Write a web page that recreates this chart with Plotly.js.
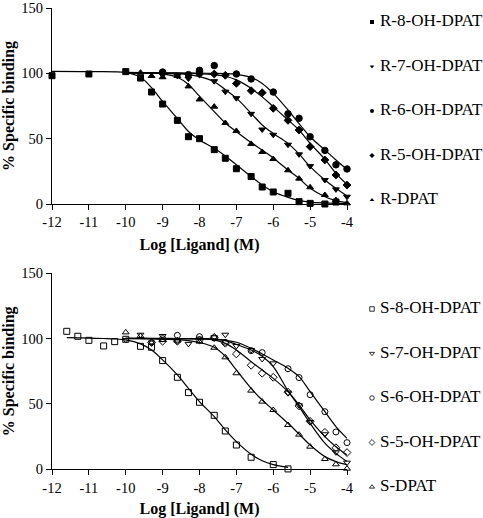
<!DOCTYPE html>
<html><head><meta charset="utf-8">
<script src="https://cdn.plot.ly/plotly-3.0.1.min.js"></script>
<style>html,body{margin:0;padding:0;background:#fff}#chart{width:483px;height:518px}</style>
</head><body><div id="chart"></div>
<script>
// ---- data ----
const X_TICK_VALS = [-12, -11, -10, -9, -8, -7, -6, -5, -4];
const X_TICK_TEXT = ['-12', '-11', '-10', '-9', '-8', '-7', '-6', '-5', '-4'];
const Y_TICK_VALS = [0, 50, 100, 150];

// Top panel (R enantiomers)
const R_NAMES = ['R-8-OH-DPAT', 'R-7-OH-DPAT', 'R-6-OH-DPAT', 'R-5-OH-DPAT', 'R-DPAT'];
const X_TOP = [-12, -11, -10, -9.6, -9.3, -9, -8.6, -8.3, -8, -7.6, -7.3, -7, -6.6, -6.3, -6, -5.6, -5.3, -5, -4.6, -4.3, -4];
const R8_PTS = [98.2, 99.5, 101.3, 96.4, 85.7, 76.5, 64, 51.5, 50, 41.6, 35, 27, 21, 13, 9.2, 8.2, 1.8, 0.5, 0, 1.5, null];
const R7_PTS = [null, null, null, null, null, 98.5, 98, 96, 100.5, 94, 86, 81, 69, 57, 53, 45.4, 38, 29, 18.4, 11.2, 5.6];
const R6_PTS = [null, null, null, null, null, 101, null, 99, 102.3, 105.9, null, 99.5, 95.7, null, 85.7, 69, 65.6, 51.5, 41, 30, 26.8];
const R5_PTS = [null, null, null, null, null, null, null, null, 99.5, 99.5, 98.5, 92.3, 86.7, 85.2, 73.2, 64, 56.6, 43.9, 33.7, 22.2, 14.5];
const RD_PTS = [null, null, null, 100.5, 98, 97, 98, 90, 80, 74.5, 62, 55.9, 46, 39.8, 34.4, 25.8, 19.4, 12.8, 6.9, 3, 0.5];
const R8_FIT = [101.5, 101.3, 100.5, 97, 89, 78.5, 65.5, 55.5, 49, 42.6, 36.7, 30, 21, 14.5, 9.4, 5.1, 2.8, 1.5, 0.8, 0.5, 0.3];
const R7_FIT = [null, null, 100.2, 100.2, 100.1, 100, 99.6, 99, 97.5, 93.5, 87.5, 81, 69.4, 60.5, 54, 46.4, 38.3, 28.6, 18.4, 12, 6.1];
const R6_FIT = [null, null, 100.5, 100.5, 100.5, 100.4, 100.3, 100.2, 100.1, 100, 99.8, 99.2, 96.8, 92.3, 84.7, 72, 61.5, 51.5, 41.3, 33.7, 26.5];
const R5_FIT = [null, null, 100.3, 100.3, 100.3, 100.2, 100.1, 100, 99.8, 99, 97.8, 95, 88.5, 82, 74.5, 64.3, 56.6, 46.4, 34.2, 23.5, 15];
const RD_FIT = [null, null, 100.8, 100.5, 100.2, 99.5, 97, 91.5, 82.5, 70.7, 62, 55.4, 47, 41.3, 35.2, 26, 19.6, 12, 5.6, 2.6, 1];

// Bottom panel (S enantiomers)
const S_NAMES = ['S-8-OH-DPAT', 'S-7-OH-DPAT', 'S-6-OH-DPAT', 'S-5-OH-DPAT', 'S-DPAT'];
const X_BOT = [-11.6, -11.3, -11, -10.6, -10.3, -10, -9.6, -9.3, -9, -8.6, -8.3, -8, -7.6, -7.3, -7, -6.6, -6.3, -6, -5.6, -5.3, -5, -4.6, -4.3, -4];
const S8_PTS = [105.6, 101.8, 98.7, 94.4, 97.7, 99.5, 94.1, 93.4, 83.2, 70.4, 58.7, 51.3, 41.3, 29.3, 18.6, 9.2, null, 3.6, 0.3, null, null, null, null, null];
const S7_PTS = [null, null, null, null, null, 99, 103, 97, 102, 98, 96, 100, 101, 103, 94.4, 91.3, 84.4, 81.1, 58.7, 49, 36.2, 26.8, 13, 5.1];
const S6_PTS = [null, null, null, null, null, null, null, null, 100, 102.5, null, 101.5, 100.5, 97.2, null, 90.8, 89.3, null, 77, 70.2, 57.1, 44.1, 28.6, 20.4];
const S5_PTS = [null, null, null, null, null, null, null, 97, 98, 98, null, 99, 101, 96.5, 88.3, 79.6, 73.5, 70.4, 59, 48.5, 36.7, 28.3, 16.5, 12.8];
const SD_PTS = [null, null, null, null, null, 104.8, 102, 97, 99, 98.5, null, 97.7, 93, 85.7, 73.5, 60.2, 51.8, 45.4, 33.9, 26.5, 17.3, 7.9, 3.8, 0.5];
const S8_FIT = [100.8, 100.6, 100.4, 100.1, 99.8, 99, 96, 91.3, 83.7, 72.2, 62, 51.8, 40.3, 30.1, 21.2, 11.5, 6.6, 3.6, 1.5, null, null, null, null, null];
const S7_FIT = [null, null, null, null, null, 100, 100, 100, 100, 100, 100, 100, 99.8, 98.5, 95.5, 91.3, 86.5, 78.5, 60, 48, 35.2, 20, 12.2, 5.9];
const S6_FIT = [null, null, null, null, null, 100.2, 100.2, 100.2, 100.2, 100.1, 100, 100, 99.5, 98.7, 97.2, 92.6, 88.3, 83.7, 77.3, 70.9, 59.4, 44.1, 32.7, 23.7];
const S5_FIT = [null, null, null, null, null, 100.2, 100.2, 100.1, 100, 100, 99.9, 99.8, 99, 96.4, 91.3, 82.4, 76, 69.6, 59.4, 49.2, 37.8, 25, 17.3, 11];
const SD_FIT = [null, null, null, null, null, 100.2, 100, 99.8, 99.5, 99.2, 98.5, 97, 93.4, 86.5, 76, 62, 53, 45.4, 35.2, 27, 18.6, 9.7, 5.9, 3.6];

// ---- styling ----
const SERIF = 'Liberation Serif, Times New Roman, serif';
const TICK_SIZE = 14.5, TITLE_SIZE = 16, LEGEND_SIZE = 17;
const TOP_SYMBOLS = ['square', 'triangle-down', 'circle', 'diamond', 'triangle-up'];
const BOT_SYMBOLS = ['square-open', 'triangle-down-open', 'circle-open', 'diamond-open', 'triangle-up-open'];
const TOP_SIZES = [6, 6, 6.5, 6, 6];
const BOT_SIZES = [6, 6, 6, 6, 6];

const topPts = [R8_PTS, R7_PTS, R6_PTS, R5_PTS, RD_PTS];
const topFit = [R8_FIT, R7_FIT, R6_FIT, R5_FIT, RD_FIT];
const botPts = [S8_PTS, S7_PTS, S6_PTS, S5_PTS, SD_PTS];
const botFit = [S8_FIT, S7_FIT, S6_FIT, S5_FIT, SD_FIT];

const traces = [];
function addPanel(xs, pts, fits, names, symbols, sizes, xa, ya) {
  fits.forEach((f, i) => traces.push({
    type: 'scatter', mode: 'lines', x: xs, y: f, xaxis: xa, yaxis: ya,
    line: {color: '#000', width: 1.2, shape: 'spline', smoothing: 1},
    showlegend: false, hoverinfo: 'skip'
  }));
  pts.forEach((p, i) => traces.push({
    type: 'scatter', mode: 'markers', x: xs, y: p, xaxis: xa, yaxis: ya, name: names[i],
    marker: {symbol: symbols[i], size: sizes[i], color: '#000', line: {color: '#000', width: 1}},
    cliponaxis: false, showlegend: false
  }));
}
addPanel(X_TOP, topPts, topFit, R_NAMES, TOP_SYMBOLS, TOP_SIZES, 'x', 'y');
addPanel(X_BOT, botPts, botFit, S_NAMES, BOT_SYMBOLS, BOT_SIZES, 'x2', 'y2');

// manual legends: symbol column and label column, positioned with hidden axes
const idx = R_NAMES.map((_, i) => i);
function addLegend(names, symbols, ya, msize, lw) {
  traces.push({
    type: 'scatter', mode: 'markers', x: idx.map(() => 0), y: idx, xaxis: 'x3', yaxis: ya,
    marker: {symbol: symbols, size: msize, color: '#000', line: {color: '#000', width: lw}},
    cliponaxis: false, showlegend: false, hoverinfo: 'skip'
  });
  traces.push({
    type: 'scatter', mode: 'text', x: idx.map(() => 8), y: idx, xaxis: 'x3', yaxis: ya,
    text: names, textposition: 'middle right', textfont: {family: SERIF, size: LEGEND_SIZE, color: '#000'},
    cliponaxis: false, showlegend: false, hoverinfo: 'skip'
  });
}
addLegend(R_NAMES, TOP_SYMBOLS, 'y3', 4, 0);
addLegend(S_NAMES, BOT_SYMBOLS, 'y4', 4.5, 0.8);

const W = 483, H = 518;
const xDom = [52 / W, 347 / W];
function xAxis(anchor) {
  return {
    domain: xDom, anchor: anchor, range: [-12, -4], tickvals: X_TICK_VALS, ticktext: X_TICK_TEXT,
    showline: true, linecolor: '#000', linewidth: 1, ticks: 'outside', ticklen: 5, tickcolor: '#000',
    showgrid: false, zeroline: false, tickfont: {family: SERIF, size: TICK_SIZE, color: '#000'},
    title: {text: '<b>Log [Ligand] (M)</b>', font: {family: SERIF, size: TITLE_SIZE, color: '#000'}, standoff: 9}
  };
}
function yAxis(anchor, dom) {
  return {
    domain: dom, anchor: anchor, range: [0, 150], tickvals: Y_TICK_VALS,
    showline: true, linecolor: '#000', linewidth: 1, ticks: 'outside', ticklen: 5, tickcolor: '#000',
    showgrid: false, zeroline: false, tickfont: {family: SERIF, size: TICK_SIZE, color: '#000'},
    title: {text: '<b>% Specific binding</b>', font: {family: SERIF, size: TITLE_SIZE, color: '#000'}, standoff: 2}
  };
}
const hidden = {visible: false, showgrid: false, zeroline: false, fixedrange: true};
const layout = {
  width: W, height: H, margin: {l: 0, r: 0, t: 0, b: 0},
  paper_bgcolor: '#fff', plot_bgcolor: 'rgba(0,0,0,0)', showlegend: false,
  font: {family: SERIF, color: '#000'},
  xaxis: xAxis('y'),
  yaxis: yAxis('x', [(H - 204) / H, (H - 8) / H]),
  xaxis2: xAxis('y2'),
  yaxis2: yAxis('x2', [(H - 469.3) / H, (H - 273.3) / H]),
  xaxis3: Object.assign({domain: [360 / W, 1], range: [-12, 111], anchor: 'y3'}, hidden),
  yaxis3: Object.assign({domain: [(H - 222) / H, 1], range: [4.494, -0.494], anchor: 'x3'}, hidden),
  yaxis4: Object.assign({domain: [0, (H - 287) / H], range: [4.697, -0.494], anchor: 'x3'}, hidden)
};
Plotly.newPlot('chart', traces, layout, {staticPlot: true, displayModeBar: false});
</script></body></html>
